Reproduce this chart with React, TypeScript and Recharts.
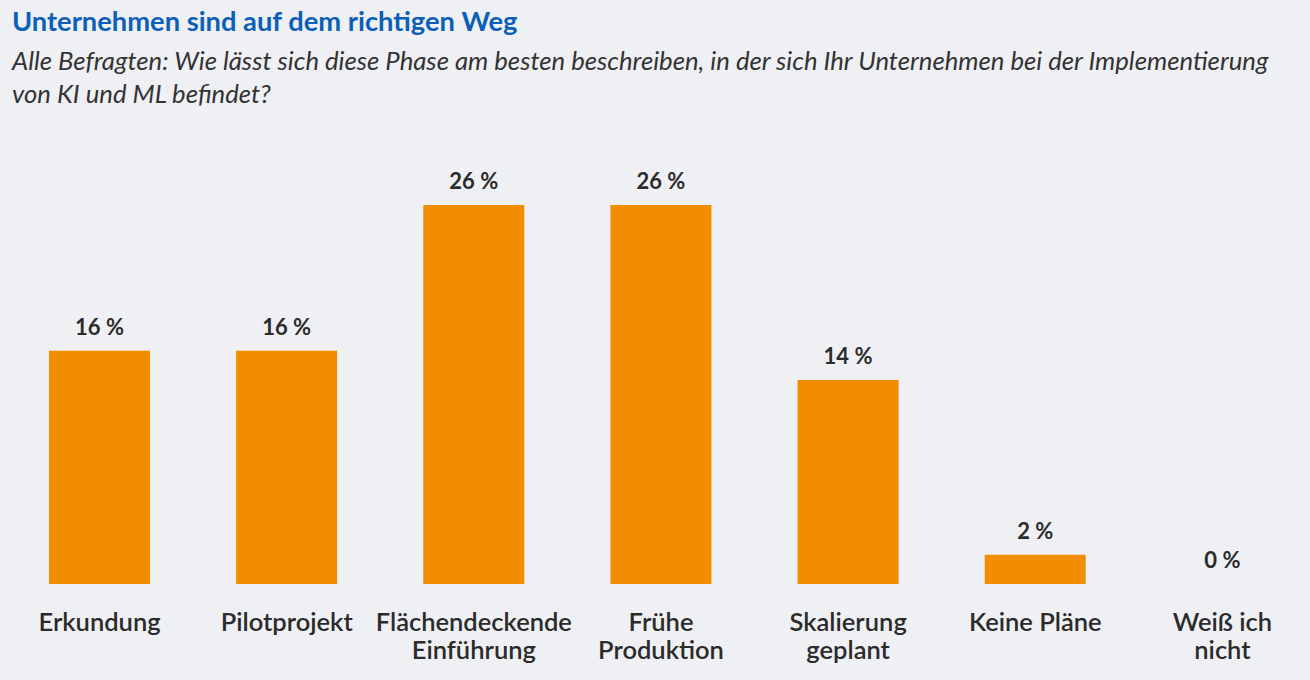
import React from 'react';
import { BarChart, Bar, XAxis, YAxis, LabelList } from 'recharts';

const categories = [
  'Erkundung',
  'Pilotprojekt',
  'Flächendeckende\nEinführung',
  'Frühe\nProduktion',
  'Skalierung\ngeplant',
  'Keine Pläne',
  'Weiß ich\nnicht',
];
const shares = [16, 16, 26, 26, 14, 2, 0];

const data = categories.map((name, i) => ({ name, value: shares[i] }));

const FONT = 'Lato, "Noto Sans", sans-serif';
const TEXT = '#2b2b2b';

const CategoryTick = (props: any) => {
  const { x, y, payload } = props;
  const lines = String(payload.value).split('\n');
  return (
    <text x={x} y={y} textAnchor="middle" fill={TEXT} fontFamily={FONT} fontSize={25.5} fontWeight={600}>
      {lines.map((line, i) => (
        <tspan key={i} x={x} dy={i === 0 ? 39 : 28}>{line}</tspan>
      ))}
    </text>
  );
};

const ValueLabel = (props: any) => {
  const { x, y, width, value } = props;
  return (
    <text x={x + width / 2} y={y - 16} textAnchor="middle" fill={TEXT} fontFamily={FONT} fontSize={22} fontWeight={700}>
      {`${value} %`}
    </text>
  );
};

export default function App() {
  return (
    <div style={{ position: 'fixed', left: 0, top: 0, width: 1310, height: 680, background: '#eff0f3', overflow: 'hidden', fontFamily: FONT }}>
      <div style={{ position: 'absolute', left: 12, top: 4, fontSize: 27.3, fontWeight: 700, color: '#0b5fb8' }}>
        Unternehmen sind auf dem richtigen Weg
      </div>
      <div style={{ position: 'absolute', left: 12, top: 44, width: 1298, fontSize: 25.7, fontStyle: 'italic', color: '#333', lineHeight: '33px', whiteSpace: 'nowrap' }}>
        Alle Befragten: Wie lässt sich diese Phase am besten beschreiben, in der sich Ihr Unternehmen bei der Implementierung
        <br />
        von KI und ML befindet?
      </div>
      <div style={{ position: 'absolute', left: 0, top: 0 }}>
        <BarChart width={1316} height={680} data={data} margin={{ top: 205, right: 0, bottom: 0, left: 6 }}>
          <XAxis dataKey="name" axisLine={false} tickLine={false} height={96} interval={0} tick={<CategoryTick />} />
          <YAxis hide domain={[0, 26]} />
          <Bar dataKey="value" fill="#f28c00" barSize={101} minPointSize={0.01} isAnimationActive={false}>
            <LabelList dataKey="value" content={<ValueLabel />} />
          </Bar>
        </BarChart>
      </div>
    </div>
  );
}
